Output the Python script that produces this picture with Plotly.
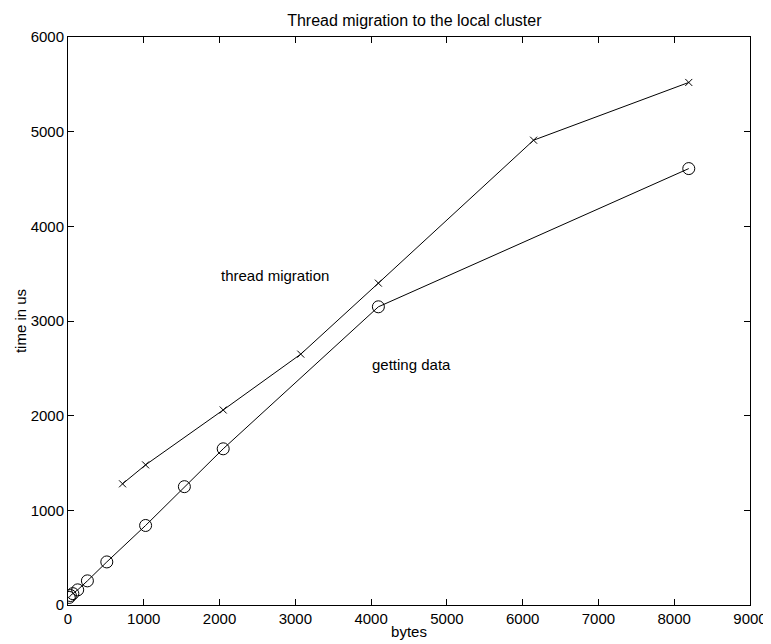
import plotly.graph_objects as go

# data
mig_bytes = [720, 1024, 2048, 3072, 4096, 6144, 8192]
mig_time = [1280, 1480, 2060, 2650, 3400, 4910, 5520]
get_bytes = [16, 32, 64, 128, 256, 512, 1024, 1536, 2048, 4096, 8192]
get_time = [80, 100, 120, 160, 255, 455, 840, 1250, 1650, 3150, 4610]
x_ticks = [0, 1000, 2000, 3000, 4000, 5000, 6000, 7000, 8000, 9000]
y_ticks = [0, 1000, 2000, 3000, 4000, 5000, 6000]

font = dict(family="Liberation Sans, Arial, Helvetica, sans-serif", size=15, color="black")
title_font = dict(family="Liberation Sans, Arial, Helvetica, sans-serif", size=16, color="black")

fig = go.Figure()
fig.add_trace(go.Scatter(
    x=mig_bytes, y=mig_time, mode="lines+markers",
    line=dict(color="black", width=1),
    marker=dict(symbol="x-thin-open", size=7, color="black", line=dict(width=1, color="black")),
    name="thread migration", showlegend=False))
fig.add_trace(go.Scatter(
    x=get_bytes, y=get_time, mode="lines+markers",
    line=dict(color="black", width=1),
    marker=dict(symbol="circle-open", size=12, color="black", line=dict(width=1, color="black")),
    name="getting data", showlegend=False))

fig.add_annotation(x=1990, y=3480, text="thread migration", showarrow=False,
                   xanchor="left", yanchor="middle", font=font)
fig.add_annotation(x=3980, y=2540, text="getting data", showarrow=False,
                   xanchor="left", yanchor="middle", font=font)

axis_common = dict(showline=True, linecolor="black", linewidth=1, mirror="ticks",
                   ticks="inside", ticklen=6, tickcolor="black", showgrid=False,
                   zeroline=False, tickfont=font)

fig.update_layout(
    width=771, height=644,
    margin=dict(l=42, r=18, t=29, b=47),
    paper_bgcolor="white", plot_bgcolor="white",
    font=font,
    title=dict(text="Thread migration to the local cluster", x=0.527, xanchor="center",
               y=0.99, yanchor="top", font=title_font),
    xaxis=dict(range=[0, 9000], tickvals=x_ticks, ticktext=[str(v) for v in x_ticks],
               title=dict(text="bytes", font=font, standoff=0), **axis_common),
    yaxis=dict(range=[0, 6000], tickvals=y_ticks, ticktext=[str(v) for v in y_ticks],
               title=dict(text="time in us", font=font, standoff=0), **axis_common),
)

fig.write_html("out.html")
